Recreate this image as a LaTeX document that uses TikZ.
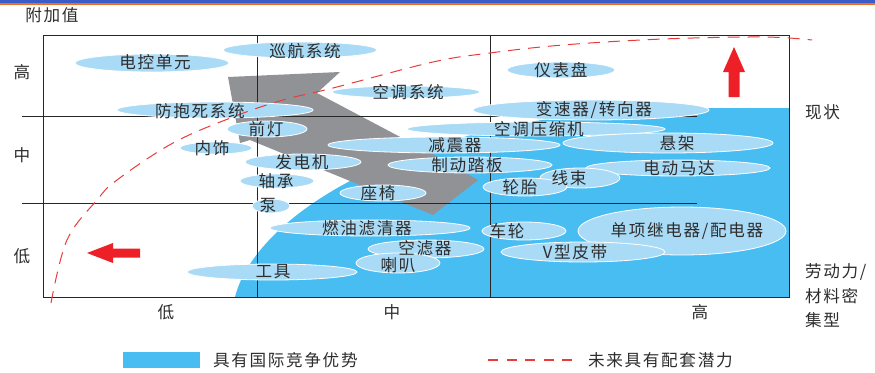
\documentclass[tikz,border=0pt]{standalone}
\usepackage{fontspec}
\newfontfamily\cjk[LetterSpace=10]{Noto Sans CJK SC}
\usetikzlibrary{shapes.geometric}
\definecolor{regblue}{RGB}{72,189,242}
\definecolor{blob}{RGB}{170,219,246}
\definecolor{arrowgray}{RGB}{145,146,150}
\definecolor{dashred}{RGB}{232,60,60}
\definecolor{arrred}{RGB}{237,32,39}
\definecolor{txt}{RGB}{45,45,45}
\definecolor{barblue}{RGB}{58,92,200}
\definecolor{barorange}{RGB}{240,110,30}
\begin{document}
\begin{tikzpicture}[x=1pt,y=-1pt,
  lbl/.style={font=\cjk\fontsize{16.6}{19}\selectfont, text=txt, inner sep=0pt},
  blobfill/.style={fill=blob, draw=white, line width=0.8pt},
  grid/.style={draw=black!85, line width=0.9pt},
  redarrow/.style={fill=arrred},
  reddash/.style={draw=dashred, line width=1pt, dash pattern=on 12pt off 8pt}]
\useasboundingbox (0,0) rectangle (875,372);
\fill[white] (0,0) rectangle (875,372);
\fill[barblue] (0,0) rectangle (875,3);
\fill[barorange] (0,3) rectangle (875,5);
% region with international advantage
\fill[regblue] (235,297) .. controls (256,213) and (420,108) .. (697,108) -- (789,108) -- (789,297) -- cycle;
% gray arrow
\fill[arrowgray] (228,77) -- (340,72) -- (317,93) -- (440,158) -- (478,180) -- (433,215) -- (250,140) -- (240,143) -- cycle;
% grid
\draw[grid] (43,35) rectangle (789,297);
\draw[grid] (22,116) -- (697,116);
\draw[grid] (22,203) -- (697,203);
\draw[grid] (257,35) -- (257,297);
\draw[grid] (490,35) -- (490,297);
% ellipses
\path[blobfill] (300,50) ellipse [x radius=77pt, y radius=8pt];
\path[blobfill] (152,63) ellipse [x radius=77pt, y radius=9pt];
\path[blobfill] (406,92) ellipse [x radius=74pt, y radius=6pt];
\path[blobfill] (561,70) ellipse [x radius=54pt, y radius=8pt];
\path[blobfill] (215,110) ellipse [x radius=98pt, y radius=8pt];
\path[blobfill] (267,129) ellipse [x radius=40pt, y radius=8pt];
\path[blobfill] (216,148) ellipse [x radius=36pt, y radius=6pt];
\path[blobfill] (303,162) ellipse [x radius=58pt, y radius=8pt];
\path[blobfill] (277,181) ellipse [x radius=37pt, y radius=7pt];
\path[blobfill] (271,206) ellipse [x radius=19pt, y radius=7pt];
\path[blobfill] (536,129) ellipse [x radius=129pt, y radius=7pt];
\path[blobfill] (591,110) ellipse [x radius=118pt, y radius=10pt];
\path[blobfill] (444,145) ellipse [x radius=116pt, y radius=8pt];
\path[blobfill] (668,143) ellipse [x radius=105pt, y radius=10pt];
\path[blobfill] (470,165) ellipse [x radius=82pt, y radius=8pt];
\path[blobfill] (678,168) ellipse [x radius=92pt, y radius=8pt];
\path[blobfill] (580,178) ellipse [x radius=40pt, y radius=10pt];
\path[blobfill] (525,187) ellipse [x radius=42pt, y radius=9pt];
\path[blobfill] (383,193) ellipse [x radius=43pt, y radius=8pt];
\path[blobfill] (370,228) ellipse [x radius=100pt, y radius=8pt];
\path[blobfill] (426,249) ellipse [x radius=58pt, y radius=9pt];
\path[blobfill] (398,263) ellipse [x radius=42pt, y radius=10pt];
\path[blobfill] (272,272) ellipse [x radius=85pt, y radius=8pt];
\path[blobfill] (524,231) ellipse [x radius=42pt, y radius=9pt];
\path[blobfill] (682,231) ellipse [x radius=104pt, y radius=24pt];
\path[blobfill] (583,252) ellipse [x radius=82pt, y radius=10pt];
% dashed future potential line
\draw[reddash] plot[smooth, tension=0.6] coordinates {(51,303) (67,240) (97,200) (117,180) (173,143) (233,117) (283,100) (333,88) (433,62) (490,53) (563,45) (663,39) (763,37) (812,40)};
% red arrows
\fill[redarrow] (734,47) -- (745,72) -- (739.5,72) -- (739.5,97) -- (728.5,97) -- (728.5,72) -- (723,72) -- cycle;
\fill[redarrow] (87,253) -- (113,243) -- (113,248.5) -- (140,248.5) -- (140,257.5) -- (113,257.5) -- (113,263) -- cycle;
% labels in ellipses
\node[lbl] (ecu) at (155,62) {电控单元};
\node[lbl] (cruise) at (305,51) {巡航系统};
\node[lbl] (ac) at (408,92) {空调系统};
\node[lbl] (dash) at (561,70) {仪表盘};
\node[lbl] (abs) at (200,111) {防抱死系统};
\node[lbl] (lamp) at (266,129) {前灯};
\node[lbl] (trim) at (212,148) {内饰};
\node[lbl] (gen) at (302,162) {发电机};
\node[lbl] (bear) at (276,181) {轴承};
\node[lbl] (pump) at (268,206) {泵};
\node[lbl] (gear) at (594,110) {变速器/转向器};
\node[lbl] (comp) at (539,129) {空调压缩机};
\node[lbl] (shock) at (455,145) {减震器};
\node[lbl] (susp) at (677,143) {悬架};
\node[lbl] (pedal) at (467,165) {制动踏板};
\node[lbl] (motor) at (679,168) {电动马达};
\node[lbl] (wire) at (569,178) {线束};
\node[lbl] (tire) at (520,187) {轮胎};
\node[lbl] (seat) at (378,193) {座椅};
\node[lbl] (fuel) at (367,228) {燃油滤清器};
\node[lbl] (air) at (425,248) {空滤器};
\node[lbl] (horn) at (398,265) {喇叭};
\node[lbl] (tool) at (273,272) {工具};
\node[lbl] (wheel) at (507,231) {车轮};
\node[lbl] (belt) at (575,252) {V型皮带};
\node[lbl] (relay) at (687,231) {单项继电器/配电器};
% axes labels
\node[lbl] (yaxis) at (52,15) {附加值};
\node[lbl] (yhi) at (22,72) {高};
\node[lbl] (ymid) at (22,155) {中};
\node[lbl] (ylo) at (22,256) {低};
\node[lbl] (xlo) at (166,312) {低};
\node[lbl] (xmid) at (392,312) {中};
\node[lbl] (xhi) at (700,312) {高};
\node[lbl, anchor=west] (now) at (805,112) {现状};
\node[lbl, anchor=west] (xl1) at (805,272) {劳动力/};
\node[lbl, anchor=west] (xl2) at (805,296) {材料密};
\node[lbl, anchor=west] (xl3) at (805,320) {集型};
% legend
\fill[regblue] (123,352) rectangle (200,368);
\node[lbl, anchor=west] (leg1) at (213,360) {具有国际竞争优势};
\coordinate (ld1) at (488,360);
\coordinate (ld2) at (573,360);
\draw[draw=dashred, line width=1.2pt, dash pattern=on 10pt off 8.5pt] (ld1) -- (ld2);
\node[lbl, anchor=west] (leg2) at (588,360) {未来具有配套潜力};
\end{tikzpicture}
\end{document}
